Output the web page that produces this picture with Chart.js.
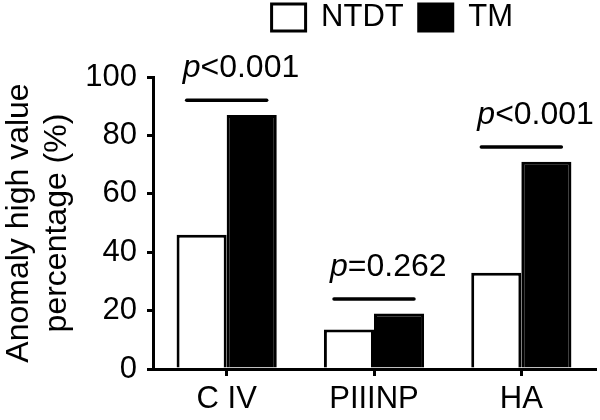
<!DOCTYPE html>
<html><head><meta charset="utf-8">
<style>html,body{margin:0;padding:0;background:#fff}#wrap{width:600px;height:420px;position:relative}</style>
<script src="https://cdn.jsdelivr.net/npm/chart.js@4.4.1/dist/chart.umd.min.js"></script>
</head><body><div id="wrap"><canvas id="c"></canvas></div>
<script>
const categories = ['C IV', 'PIIINP', 'HA'];
const seriesNames = ['NTDT', 'TM'];
const ntdtValues = [46, 13.5, 33];
const tmValues = [87, 19, 71];
const pLabels = ['<0.001', '=0.262', '<0.001'];
const yTicks = [0, 20, 40, 60, 80, 100];
const yTitle = ['Anomaly high value', 'percentage (%)'];

const FONT = "'Liberation Sans', Arial, Helvetica, sans-serif";

const sigPlugin = {
  id: 'sig',
  afterDatasetsDraw(chart) {
    const ctx = chart.ctx, xs = chart.scales.x, ys = chart.scales.y;
    categories.forEach((c, i) => {
      const cx = xs.getPixelForValue(i);
      const ly = ys.getPixelForValue(Math.max(ntdtValues[i], tmValues[i]) + 5);
      const x0 = cx - 40, x1 = cx + 40;
      ctx.save();
      ctx.strokeStyle = '#000'; ctx.lineWidth = 3.5; ctx.lineCap = 'round';
      ctx.beginPath(); ctx.moveTo(x0, ly); ctx.lineTo(x1, ly); ctx.stroke();
      ctx.fillStyle = '#000'; ctx.textBaseline = 'alphabetic'; ctx.textAlign = 'left';
      const tx = x0 - 4, ty = ly - 23;
      ctx.font = 'italic 32px ' + FONT;
      ctx.fillText('p', tx, ty);
      const w = ctx.measureText('p').width;
      ctx.font = '32px ' + FONT;
      ctx.fillText(pLabels[i], tx + w, ty);
      ctx.restore();
    });
  }
};

const legendShift = {
  id: 'legendShift',
  beforeDraw(chart) {
    const l = chart.legend;
    if (l) { l.right = 528; l.top = -13; }
  }
};

new Chart(document.getElementById('c'), {
  type: 'bar',
  data: {
    labels: categories,
    datasets: [
      { label: seriesNames[0], data: ntdtValues, backgroundColor: '#fff', borderColor: '#000', borderWidth: 3, borderSkipped: 'start', barPercentage: 1, categoryPercentage: 0.68 },
      { label: seriesNames[1], data: tmValues, backgroundColor: '#000', borderColor: '#000', borderWidth: 3, borderSkipped: 'start', barPercentage: 1, categoryPercentage: 0.68 }
    ]
  },
  options: {
    responsive: true, maintainAspectRatio: false, animation: false,
    layout: { padding: { left: 0, right: 5, top: 21, bottom: 0 } },
    plugins: {
      legend: { position: 'top', align: 'end',
        labels: { boxWidth: 34, boxHeight: 27, padding: 15, color: '#000', font: { size: 31, family: FONT } } },
      tooltip: { enabled: false }
    },
    scales: {
      x: {
        grid: { display: true, drawOnChartArea: false, offset: false, tickLength: 7, lineWidth: 3, color: '#000' },
        border: { display: true, color: '#000', width: 3 },
        ticks: { color: '#000', font: { size: 31, family: FONT }, padding: 5, maxRotation: 0, autoSkip: false },
        afterFit(s) { s.height = 51; }
      },
      y: {
        min: 0, max: 100,
        afterBuildTicks(s) { s.ticks = yTicks.map(v => ({ value: v })); },
        grid: { display: true, drawOnChartArea: false, tickLength: 6, lineWidth: 3, color: '#000' },
        border: { display: true, color: '#000', width: 3 },
        ticks: { color: '#000', font: { size: 31, family: FONT }, padding: 10 },
        title: { display: true, text: yTitle, color: '#000', font: { size: 32, family: FONT }, padding: 0 },
        afterFit(s) { s.width = 153; }
      }
    }
  },
  plugins: [sigPlugin, legendShift]
});
</script></body></html>
